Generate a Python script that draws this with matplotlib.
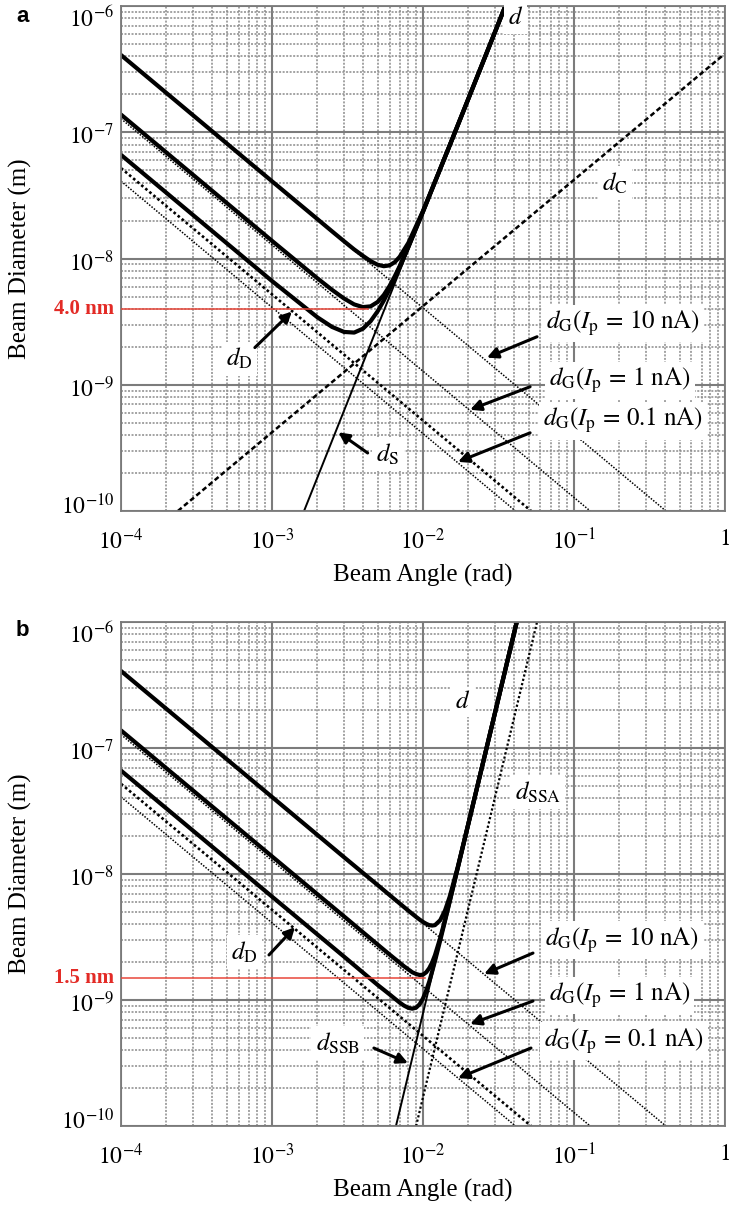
import matplotlib.pyplot as plt
import matplotlib.transforms as mtransforms
from matplotlib.ticker import LogLocator, NullFormatter

plt.rcParams['font.family'] = 'serif'
plt.rcParams['font.serif'] = ['Liberation Serif', 'DejaVu Serif']
plt.rcParams['mathtext.fontset'] = 'stix'

# axis ticks
x_ticks = [1e-4, 1e-3, 1e-2, 1e-1, 1]
x_tick_labels = ['$10^{-4}$', '$10^{-3}$', '$10^{-2}$', '$10^{-1}$', '$1$']
y_ticks = [1e-10, 1e-9, 1e-8, 1e-7, 1e-6]
y_tick_labels = ['$10^{-10}$', '$10^{-9}$', '$10^{-8}$', '$10^{-7}$', '$10^{-6}$']

# straight components (end points): angle (rad), diameter (m)
dG10_x = [1e-4, 0.406]
dG10_y = [4.06e-7, 1e-10]
dG1_x = [1e-4, 0.128]
dG1_y = [1.28e-7, 1e-10]
dG01_x = [1e-4, 0.041]
dG01_y = [4.1e-8, 1e-10]
dD_x = [1e-4, 0.052]
dD_y = [5.2e-8, 1e-10]

# panel a: spherical and chromatic aberration
a_dS_x = [1.63e-3, 0.0351]
a_dS_y = [1e-10, 1e-6]
a_dC_x = [2.38e-4, 1.0]
a_dC_y = [1e-10, 4.2e-7]

# panel a: total beam diameter d for 10, 1, 0.1 nA
a_angle = [1e-4, 1e-3, 2e-3, 2.5e-3, 3e-3, 3.5e-3, 4e-3, 4.5e-3, 5e-3, 5.5e-3,
           6e-3, 6.5e-3, 7e-3, 8e-3, 1e-2, 1.5e-2, 2e-2, 3e-2, 3.6e-2]
a_d10 = [4.09e-7, 4.09e-8, 2.05e-8, 1.64e-8, 1.37e-8, 1.18e-8, 1.05e-8, 9.53e-9,
         8.93e-9, 8.69e-9, 8.82e-9, 9.35e-9, 1.03e-8, 1.33e-8, 2.38e-8, 7.83e-8,
         1.85e-7, 6.24e-7, 1.08e-6]
a_d1 = [1.38e-7, 1.38e-8, 6.96e-9, 5.64e-9, 4.82e-9, 4.33e-9, 4.12e-9, 4.18e-9,
        4.52e-9, 5.14e-9, 6.05e-9, 7.23e-9, 8.68e-9, 1.24e-8, 2.35e-8, 7.83e-8,
        1.85e-7, 6.24e-7, 1.08e-6]
a_d01 = [6.62e-8, 6.63e-9, 3.42e-9, 2.87e-9, 2.62e-9, 2.59e-9, 2.78e-9, 3.19e-9,
         3.81e-9, 4.64e-9, 5.70e-9, 6.98e-9, 8.50e-9, 1.23e-8, 2.35e-8, 7.83e-8,
         1.85e-7, 6.24e-7, 1.08e-6]
a_marker_nm = 4.0e-9
a_marker_end = 4.33e-3

# panel b: space-charge terms
b_dSSB_x = [6.62e-3, 0.0418]
b_dSSB_y = [1e-10, 1e-6]
b_dSSA_x = [9.0e-3, 0.0569]
b_dSSA_y = [1e-10, 1e-6]

b_angle = [1e-4, 1e-3, 3e-3, 5e-3, 6e-3, 7e-3, 7.5e-3, 8e-3, 8.5e-3, 9e-3, 9.5e-3,
           1e-2, 1.05e-2, 1.1e-2, 1.15e-2, 1.2e-2, 1.3e-2, 1.4e-2, 1.5e-2, 1.7e-2,
           2e-2, 3e-2, 4e-2, 4.2e-2]
b_d10 = [4.09e-7, 4.09e-8, 1.36e-8, 8.19e-9, 6.82e-9, 5.85e-9, 5.46e-9, 5.12e-9,
         4.83e-9, 4.57e-9, 4.35e-9, 4.17e-9, 4.03e-9, 3.93e-9, 3.90e-9, 3.93e-9,
         4.30e-9, 5.15e-9, 6.57e-9, 1.14e-8, 2.53e-8, 1.91e-7, 8.06e-7, 1.03e-6]
b_d1 = [1.38e-7, 1.38e-8, 4.61e-9, 2.76e-9, 2.30e-9, 1.98e-9, 1.85e-9, 1.75e-9,
        1.66e-9, 1.61e-9, 1.58e-9, 1.59e-9, 1.66e-9, 1.79e-9, 1.99e-9, 2.27e-9,
        3.11e-9, 4.35e-9, 6.05e-9, 1.12e-8, 2.52e-8, 1.91e-7, 8.06e-7, 1.03e-6]
b_d01 = [6.62e-8, 6.62e-9, 2.21e-9, 1.32e-9, 1.11e-9, 9.55e-10, 9.02e-10, 8.67e-10,
         8.54e-10, 8.70e-10, 9.26e-10, 1.03e-9, 1.19e-9, 1.40e-9, 1.69e-9, 2.04e-9,
         2.97e-9, 4.26e-9, 6.00e-9, 1.12e-8, 2.52e-8, 1.91e-7, 8.06e-7, 1.03e-6]
b_marker_nm = 1.5e-9
b_marker_end = 1.03e-2

FS = 17
DOT = (0, (1.0, 1.0))
BOX = dict(facecolor='white', edgecolor='none', pad=3)
ARROW = dict(arrowstyle='-|>', color='black', lw=2.2, mutation_scale=16,
             shrinkA=0, shrinkB=0)
# vertical nudge (px) of y tick labels, bottom to top
Y_LABEL_NUDGE = [7, -2, -2, -2, -11]

fig = plt.figure(figsize=(7.29, 12.06), dpi=100)
ax_a = fig.add_axes([0.166, 0.5763, 0.8285, 0.4187])
ax_b = fig.add_axes([0.166, 0.0663, 0.8285, 0.4179])


def setup(ax):
    ax.set_xscale('log')
    ax.set_yscale('log')
    ax.set_xlim(1e-4, 1)
    ax.set_ylim(1e-10, 1e-6)
    ax.set_xticks(x_ticks, x_tick_labels)
    ax.set_yticks(y_ticks, y_tick_labels)
    ax.xaxis.set_minor_locator(LogLocator(base=10, subs=range(2, 10), numticks=20))
    ax.yaxis.set_minor_locator(LogLocator(base=10, subs=range(2, 10), numticks=20))
    ax.xaxis.set_minor_formatter(NullFormatter())
    ax.yaxis.set_minor_formatter(NullFormatter())
    ax.tick_params(which='both', length=0, labelsize=FS)
    ax.tick_params(axis='x', pad=13)
    ax.tick_params(axis='y', pad=5)
    ax.grid(which='major', color='#7c7c7c', lw=1.5, ls='-')
    ax.grid(which='minor', color='#8a8a8a', lw=1.1, ls=(0, (1.3, 1.0)))
    ax.set_axisbelow(True)
    for s in ax.spines.values():
        s.set_color('#7a7a7a')
        s.set_linewidth(1.3)
    for lab, dy in zip(ax.get_yticklabels(), Y_LABEL_NUDGE):
        off = mtransforms.ScaledTranslation(0, dy / 100, fig.dpi_scale_trans)
        lab.set_transform(lab.get_transform() + off)
    ax.set_xlabel('Beam Angle (rad)', fontsize=FS + 1)
    ax.set_ylabel('Beam Diameter (m)', fontsize=FS + 1)
    ax.xaxis.set_label_coords(0.5, -0.105)
    ax.yaxis.set_label_coords(-0.148, 0.5)
    # Gaussian image and diffraction lines
    ax.plot(dG10_x, dG10_y, color='black', lw=1.1, ls=DOT)
    ax.plot(dG1_x, dG1_y, color='black', lw=1.1, ls=DOT)
    ax.plot(dG01_x, dG01_y, color='black', lw=1.1, ls=DOT)
    ax.plot(dD_x, dD_y, color='black', lw=1.9, ls=DOT)


def gauss_labels(ax, pos):
    texts = [r'$d_{\mathrm{G}}(I_{\mathrm{p}}\,=\,10\ \mathrm{nA})$',
             r'$d_{\mathrm{G}}(I_{\mathrm{p}}\,=\,1\ \mathrm{nA})$',
             r'$d_{\mathrm{G}}(I_{\mathrm{p}}\,=\,0.1\ \mathrm{nA})$']
    for t, (tx, ty, ax0, ay0, hx, hy) in zip(texts, pos):
        ax.text(tx, ty, t, fontsize=FS + 1, ha='center', va='center', bbox=BOX, zorder=5)
        ax.annotate('', xy=(hx, hy), xytext=(ax0, ay0), arrowprops=ARROW, zorder=6)


# ---- panel a ----
setup(ax_a)
ax_a.plot(a_dC_x, a_dC_y, color='black', lw=1.8, ls=(0, (2.0, 1.2)))
ax_a.plot(a_dS_x, a_dS_y, color='black', lw=1.4)
for d in (a_d10, a_d1, a_d01):
    ax_a.plot(a_angle, d, color='black', lw=3.0, solid_capstyle='round')
ax_a.plot([1e-4, a_marker_end], [a_marker_nm, a_marker_nm], color='#e8473a', lw=1.1, zorder=4)
ax_a.text(-0.012, a_marker_nm, '4.0 nm', color='#e32b26', fontweight='bold', fontsize=FS - 2,
          ha='right', va='center', transform=ax_a.get_yaxis_transform())

ax_a.text(0.041, 8.0e-7, '$d$', fontsize=FS + 1, ha='center', va='center', bbox=BOX, zorder=5)
ax_a.text(0.187, 3.94e-8, r'$d_{\mathrm{C}}$', fontsize=FS + 1, ha='center', va='center',
          bbox=BOX, zorder=5)
ax_a.text(6.1e-4, 1.61e-9, r'$d_{\mathrm{D}}$', fontsize=FS + 1, ha='center', va='center',
          bbox=BOX, zorder=5)
ax_a.annotate('', xy=(1.355e-3, 3.8e-9), xytext=(7.7e-4, 1.97e-9), arrowprops=ARROW, zorder=6)
ax_a.text(5.86e-3, 2.83e-10, r'$d_{\mathrm{S}}$', fontsize=FS + 1, ha='center', va='center',
          bbox=BOX, zorder=5)
ax_a.annotate('', xy=(2.75e-3, 4.2e-10), xytext=(4.3e-3, 2.88e-10), arrowprops=ARROW, zorder=6)
gauss_labels(ax_a, [(0.211, 3.05e-9, 0.0569, 2.4e-9, 0.0265, 1.64e-9),
                    (0.2018, 1.08e-9, 0.0512, 9.64e-10, 0.0205, 6.34e-10),
                    (0.211, 5.18e-10, 0.0512, 4.16e-10, 0.01706, 2.45e-10)])

# ---- panel b ----
setup(ax_b)
ax_b.plot(b_dSSA_x, b_dSSA_y, color='black', lw=1.6, ls=DOT)
ax_b.plot(b_dSSB_x, b_dSSB_y, color='black', lw=1.4)
for d in (b_d10, b_d1, b_d01):
    ax_b.plot(b_angle, d, color='black', lw=3.0, solid_capstyle='round')
ax_b.plot([1e-4, b_marker_end], [b_marker_nm, b_marker_nm], color='#e8473a', lw=1.1, zorder=4)
ax_b.text(-0.012, b_marker_nm, '1.5 nm', color='#e32b26', fontweight='bold', fontsize=FS - 2,
          ha='right', va='center', transform=ax_b.get_yaxis_transform())

ax_b.text(0.0184, 2.32e-7, '$d$', fontsize=FS + 1, ha='center', va='center', bbox=BOX, zorder=5)
ax_b.text(0.0578, 4.48e-8, r'$d_{\mathrm{SSA}}$', fontsize=FS + 1, ha='center', va='center',
          bbox=BOX, zorder=5)
ax_b.text(6.54e-4, 2.4e-9, r'$d_{\mathrm{D}}$', fontsize=FS + 1, ha='center', va='center',
          bbox=BOX, zorder=5)
ax_b.annotate('', xy=(1.42e-3, 3.79e-9), xytext=(9.55e-4, 2.28e-9), arrowprops=ARROW, zorder=6)
ax_b.text(2.73e-3, 4.56e-10, r'$d_{\mathrm{SSB}}$', fontsize=FS + 1, ha='center', va='center',
          bbox=BOX, zorder=5)
ax_b.annotate('', xy=(7.96e-3, 3.16e-10), xytext=(4.73e-3, 4.16e-10), arrowprops=ARROW, zorder=6)
gauss_labels(ax_b, [(0.208, 2.99e-9, 0.0535, 2.36e-9, 0.0254, 1.61e-9),
                    (0.2, 1.09e-9, 0.0535, 9.82e-10, 0.0205, 6.45e-10),
                    (0.215, 4.73e-10, 0.0519, 4.16e-10, 0.01706, 2.4e-10)])

fig.text(16 / 729, 1 - 16 / 1206, 'a', family='Liberation Sans', weight='bold', fontsize=16,
         ha='left', va='center')
fig.text(16 / 729, 1 - 630 / 1206, 'b', family='Liberation Sans', weight='bold', fontsize=16,
         ha='left', va='center')

fig.savefig('out.png', dpi=100)
